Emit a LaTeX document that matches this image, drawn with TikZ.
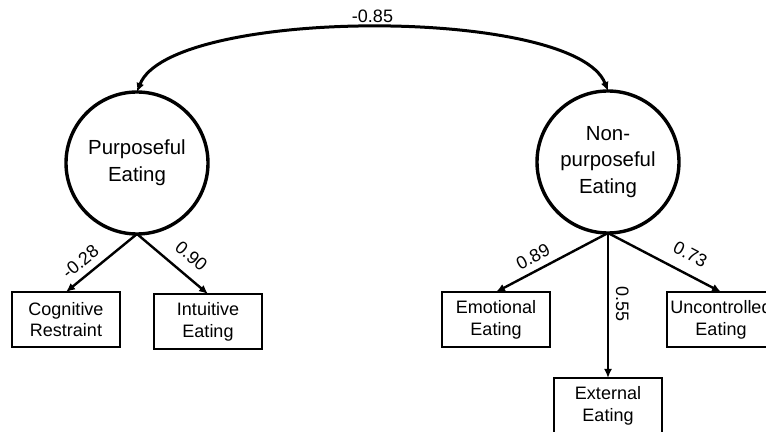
\documentclass[tikz,border=0pt]{standalone}
\usepackage{fontspec}
\setmainfont{Liberation Sans}
\usetikzlibrary{arrows.meta}
\tikzset{latent/.style={draw,circle,line width=1.7pt,minimum size=71pt,inner sep=0pt,outer sep=0pt,align=center,font=\fontsize{10.2}{13.3}\selectfont},
observed/.style={draw,rectangle,line width=1.4pt,minimum width=54pt,minimum height=27.5pt,inner sep=0pt,outer sep=0pt,align=center,font=\fontsize{9}{10.9}\selectfont},
loading/.style={font=\fontsize{9}{11}\selectfont,sloped,above}}
\begin{document}
\begin{tikzpicture}[x=0.5pt,y=-0.5pt,>={Latex[length=4.5pt,width=4pt]}]
\useasboundingbox (0,0) rectangle (766,432);
\node[latent] (pe) at (137,163) {Purposeful\\Eating};
\node[latent] (npe) at (608,162) {Non-\\purposeful\\Eating};
\node[observed] (cr) at (66,319.5) {Cognitive\\Restraint};
\node[observed] (ie) at (208,321.5) {Intuitive\\Eating};
\node[observed] (emo) at (496,319.5) {Emotional\\Eating};
\node[observed] (ext) at (608,405.5) {External\\Eating};
\node[observed] (unc) at (721,319.5) {Uncontrolled\\Eating};
\draw[<->,line width=1.5pt] (pe.north) .. controls +(33,-85) and +(-33,-85) .. (npe.north) node[pos=0.5,above,inner sep=2pt,font=\fontsize{9}{11}\selectfont] {-0.85};
\draw[->,line width=1.2pt] (pe.south) -- (cr.north) node[loading,pos=0.67] {-0.28};
\draw[->,line width=1.2pt] (pe.south) -- (ie.north) node[loading,pos=0.6,above=2pt] {0.90};
\draw[->,line width=1.2pt] (npe.south) -- (emo.north) node[loading,pos=0.61] {0.89};
\draw[->,line width=1.2pt] (npe.south) -- (ext.north) node[loading,pos=0.49] {0.55};
\draw[->,line width=1.2pt] (npe.south) -- (unc.north) node[loading,pos=0.65,above=2.5pt] {0.73};
\end{tikzpicture}
\end{document}
